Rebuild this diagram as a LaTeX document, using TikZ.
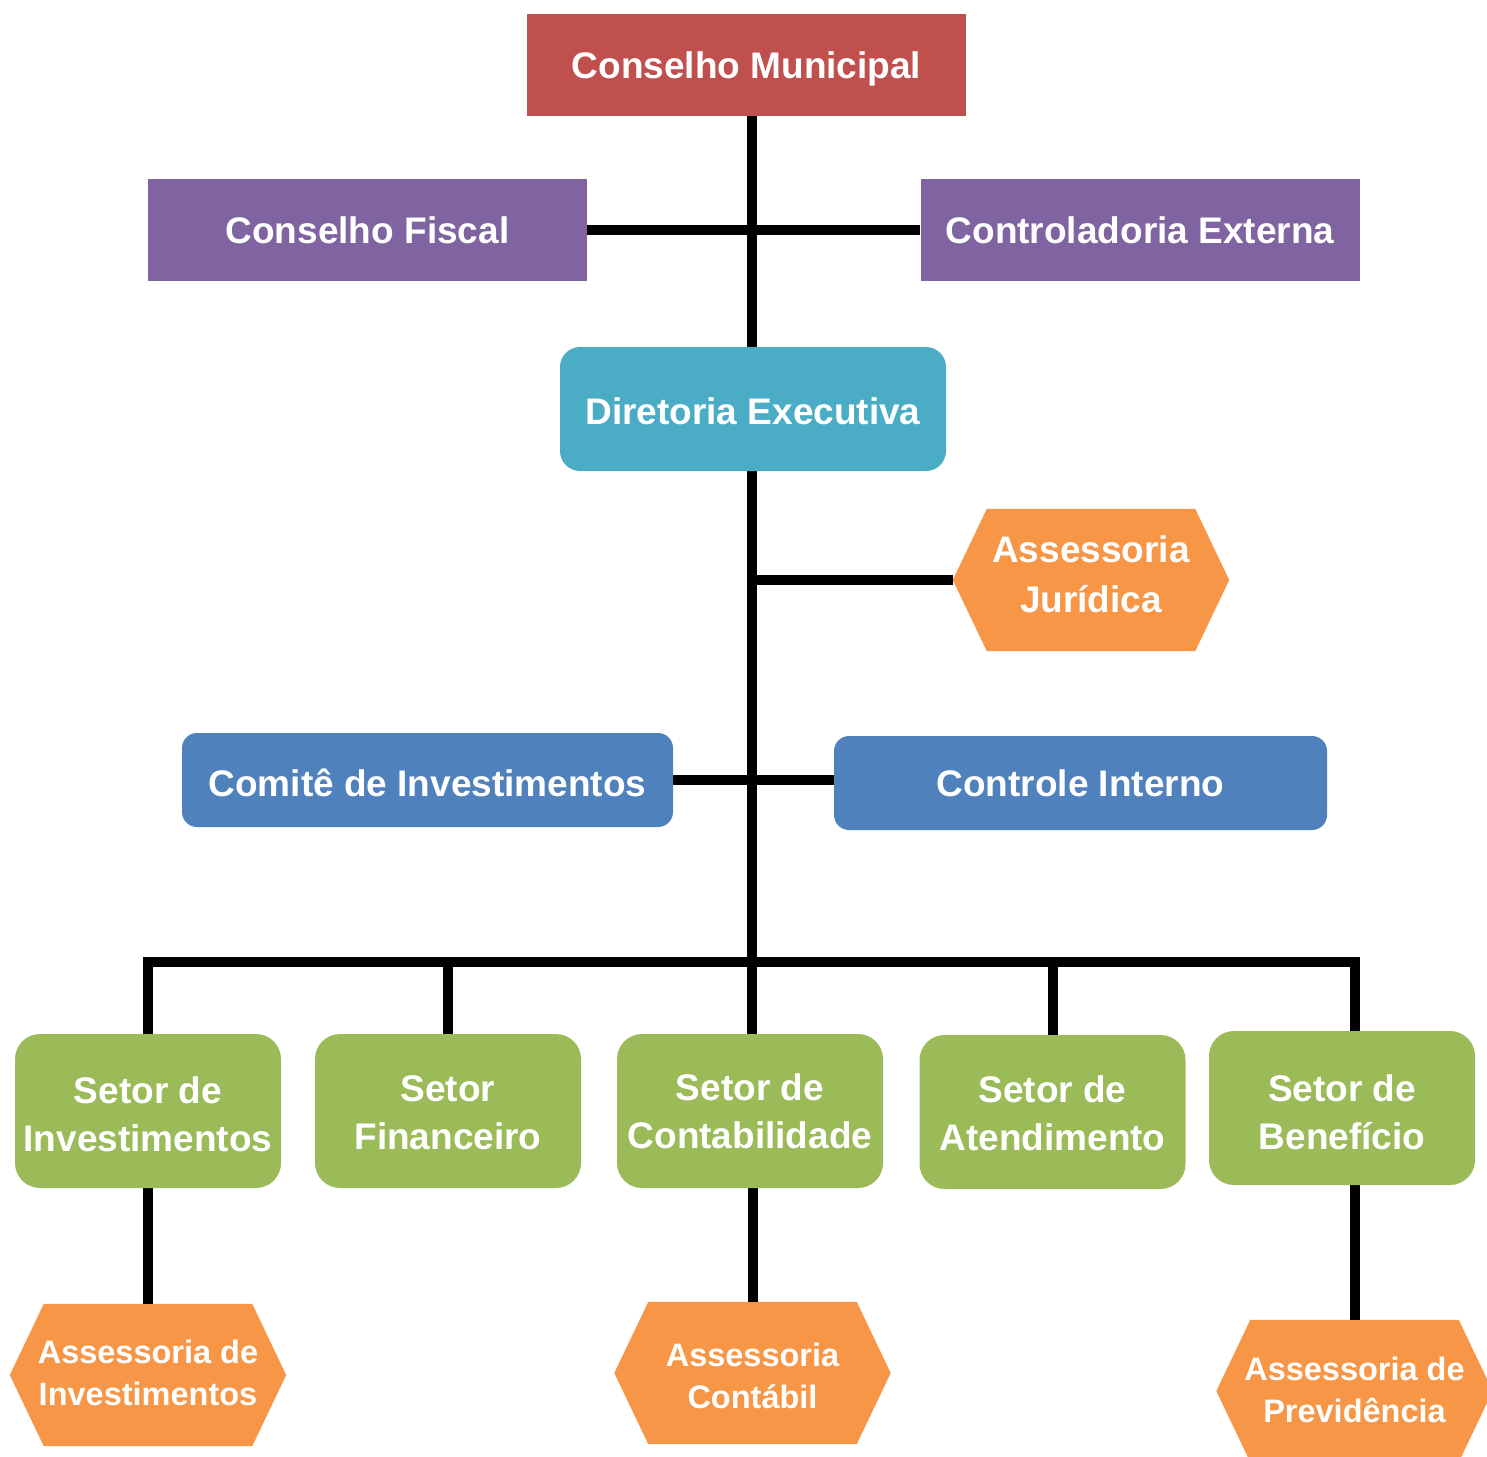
\documentclass[tikz,border=0pt]{standalone}
\usepackage{fontspec}
\setmainfont{Liberation Sans}
\usetikzlibrary{backgrounds}
\definecolor{cred}{HTML}{C0504D}
\definecolor{cpurple}{HTML}{8064A2}
\definecolor{cteal}{HTML}{4BACC6}
\definecolor{cblue}{HTML}{4F81BD}
\definecolor{cgreen}{HTML}{9BBB59}
\definecolor{corange}{HTML}{F79646}
\tikzset{
  base/.style={inner sep=0pt, text=white, align=center, font=\bfseries\fontsize{37}{48}\selectfont},
  sqbox/.style={base, fill=#1, minimum height=102pt, minimum width=439pt},
  exec/.style={base, fill=cteal, rounded corners=20pt, minimum width=386pt, minimum height=124pt},
  bluebox/.style={base, fill=cblue, rounded corners=15pt, minimum width=492pt, minimum height=94pt},
  greenbox/.style={base, fill=cgreen, rounded corners=25pt, minimum width=266pt, minimum height=154pt},
  hexnode/.style={base, minimum width=276pt, minimum height=142pt},
  smallhex/.style={hexnode, font=\bfseries\fontsize{32.5}{42}\selectfont},
  link/.style={line width=10pt, black},
}
\newcommand{\shtext}[2]{\raisebox{#1}[\height][\depth]{\begin{tabular}{@{}c@{}}#2\end{tabular}}}
\newcommand{\hexfill}[1]{\fill[corange] (#1.west) -- ([xshift=34pt]#1.north west) -- ([xshift=-34pt]#1.north east) -- (#1.east) -- ([xshift=-34pt]#1.south east) -- ([xshift=34pt]#1.south west) -- cycle;}
\begin{document}
\begin{tikzpicture}[x=1pt,y=-1pt]
\useasboundingbox (0,0) rectangle (1487,1456);
\clip (0,0) rectangle (1487,1456);
% top
\node[sqbox=cred] (cm) at (746.5,65) {\shtext{-4pt}{Conselho Municipal}};
\node[sqbox=cpurple] (cf) at (367.5,230) {Conselho Fiscal};
\node[sqbox=cpurple] (ce) at (1140,230) {Controladoria Externa};
\node[exec] (de) at (753,409) {\shtext{-6pt}{Diretoria Executiva}};
\node[hexnode, font=\bfseries\fontsize{37}{50}\selectfont] (aj) at (1091,580) {\shtext{3pt}{Assessoria\\Jurídica}};
\node[bluebox, minimum width=491pt] (ci) at (427.5,780) {\shtext{-7pt}{Comitê de Investimentos}};
\node[bluebox, minimum width=493pt] (cn) at (1080.5,783) {Controle Interno};
% green
\node[greenbox] (s1) at (148,1111) {\shtext{-7pt}{Setor de\\Investimentos}};
\node[greenbox] (s2) at (448,1111) {\shtext{-4.5pt}{Setor\\Financeiro}};
\node[greenbox] (s3) at (750,1111) {\shtext{-4pt}{Setor de\\Contabilidade}};
\node[greenbox] (s4) at (1052.5,1112) {\shtext{-4.5pt}{Setor de\\Atendimento}};
\node[greenbox] (s5) at (1342,1108) {\shtext{-7.5pt}{Setor de\\Benefício}};
% bottom hex
\node[smallhex] (a1) at (148,1375) {\shtext{-1.5pt}{Assessoria de\\Investimentos}};
\node[smallhex] (a2) at (752.5,1373) {\shtext{-6.5pt}{Assessoria\\Contábil}};
\node[smallhex] (a3) at (1354.5,1391) {\shtext{-2pt}{Assessoria de\\Previdência}};
\begin{scope}[on background layer]
\hexfill{aj}
\hexfill{a1}
\hexfill{a2}
\hexfill{a3}
\coordinate (bus) at (752,962);
\coordinate (jx) at (752,580);
\draw[link] (cm.south -| bus) -- (bus);
\draw[link] (cf.east) -- (ce.west);
\draw[link] (jx) -- (aj.west);
\draw[link] (ci.east) -- (ci.east -| cn.west);
\draw[link, line cap=rect] (bus -| s1) -- (bus -| a3);
\draw[link] (bus -| s1) -- (s1.north);
\draw[link] (bus -| s2) -- (s2.north);
\draw[link] (bus) -- (s3.north -| bus);
\draw[link] (bus -| s4) -- (s4.north);
\draw[link] (bus -| a3) -- (s5.south -| a3);
\draw[link] (s1.south) -- (a1.north);
\draw[link] (s3.south -| a2) -- (a2.north);
\draw[link] (s5.south -| a3) -- (a3.north);
\end{scope}
\end{tikzpicture}
\end{document}
